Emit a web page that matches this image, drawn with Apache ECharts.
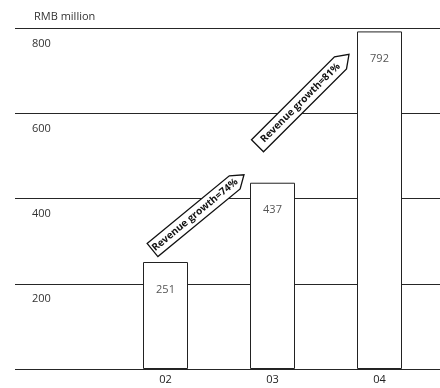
<!DOCTYPE html>
<html>
<head>
<meta charset="utf-8">
<script src="https://cdn.jsdelivr.net/npm/echarts@6/dist/echarts.min.js"></script>
<style>
  html, body { margin: 0; padding: 0; background: #fff; }
  #chart { width: 440px; height: 388px; }
</style>
</head>
<body>
<div id="chart"></div>
<script>
// Annual revenue, RMB million
const years = ['02', '03', '04'];
const revenue = [251, 437, 792];
const growthLabels = ['Revenue growth=74%', 'Revenue growth=81%'];
const yTicks = { min: 0, max: 800, step: 200 };
const unitLabel = 'RMB million';

const FONT = '"Open Sans", "DejaVu Sans", sans-serif';
const chart = echarts.init(document.getElementById('chart'), null, { renderer: 'canvas' });

chart.setOption({
  animation: false,
  backgroundColor: '#fff',
  title: {
    text: unitLabel, left: 29, top: 6,
    textStyle: { fontFamily: FONT, fontSize: 11, fontWeight: 'normal', color: '#333' }
  },
  grid: [
    { left: 15, right: 0, top: 28, bottom: 19 },   // full-width rules and value labels
    { left: 112, right: 7, top: 28, bottom: 19 }   // bars
  ],
  xAxis: [
    { gridIndex: 0, type: 'value', min: 0, max: 1, show: false },
    {
      gridIndex: 1, type: 'category', data: years,
      axisLine: { show: false }, axisTick: { show: false },
      axisLabel: { margin: 5, fontFamily: FONT, fontSize: 11, color: '#222' }
    }
  ],
  yAxis: [
    {
      gridIndex: 0, type: 'value', min: yTicks.min, max: yTicks.max, interval: yTicks.step,
      axisLine: { show: false }, axisTick: { show: false },
      splitLine: { show: true, lineStyle: { color: '#262626', width: 1.2 } },
      axisLabel: {
        inside: true, showMinLabel: false, margin: 17,
        verticalAlign: 'top', padding: [10, 0, 0, 0],
        fontFamily: FONT, fontSize: 11, color: '#333'
      }
    },
    { gridIndex: 1, type: 'value', min: yTicks.min, max: yTicks.max, show: false }
  ],
  series: [{
    type: 'bar', xAxisIndex: 1, yAxisIndex: 1,
    data: revenue, barWidth: 45,
    itemStyle: { color: '#fff', borderColor: '#222', borderWidth: 1 },
    label: {
      show: true, position: 'insideTop', distance: 22,
      fontFamily: FONT, fontSize: 11, color: '#555'
    }
  }]
});

// Growth arrows between consecutive bars, anchored to the bar tops
function px(i) {
  return chart.convertToPixel({ xAxisIndex: 1, yAxisIndex: 1 }, [i, revenue[i]]);
}
const halfBar = 22.5;
const arrowEnds = [
  // [back end, tip] as pixel offsets from the bar anchors
  { from: [-13, -12], to: [-6, -8] },
  { from: [-15, -37], to: [-8, 23] }
];

function arrowGraphic(i) {
  const a = px(i), b = px(i + 1);
  const bx = a[0] + arrowEnds[i].from[0], by = a[1] + arrowEnds[i].from[1];
  const tx = b[0] - halfBar + arrowEnds[i].to[0], ty = b[1] + arrowEnds[i].to[1];
  const dx = tx - bx, dy = ty - by;
  const L = Math.sqrt(dx * dx + dy * dy);
  const ang = Math.atan2(-dy, dx);
  const w = 17, h = 12;
  return {
    type: 'group', x: bx, y: by, rotation: ang,
    children: [
      {
        type: 'polygon',
        shape: { points: [[0, -w / 2], [L - h, -w / 2], [L, 0], [L - h, w / 2], [0, w / 2]] },
        style: { fill: '#fff', stroke: '#111', lineWidth: 1.3 }
      },
      {
        type: 'text', x: (L - h) / 2 + 2, y: 0,
        style: {
          text: growthLabels[i], fontFamily: FONT, fontSize: 10, fontWeight: 'bold',
          fill: '#111', align: 'center', verticalAlign: 'middle'
        }
      }
    ]
  };
}

chart.setOption({ graphic: growthLabels.map((_, i) => arrowGraphic(i)) });
</script>
</body>
</html>
